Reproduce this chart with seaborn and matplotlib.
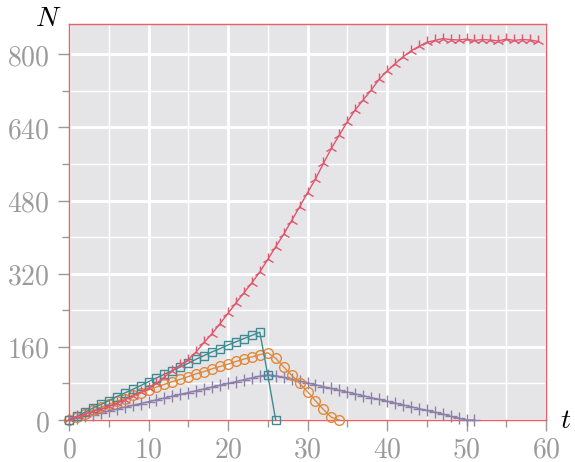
import numpy as np
import pandas as pd
import seaborn as sns
import matplotlib.pyplot as plt
from matplotlib.ticker import MultipleLocator, FuncFormatter

# values
t_red = list(range(0, 60))
n_red = [3, 8, 13, 19, 24, 30, 37, 44, 52, 61,
         70, 80, 94, 108, 120, 132, 149, 170, 189, 211,
         233, 256, 278, 300, 324, 351, 379, 406, 436, 466,
         497, 527, 561, 594, 623, 652, 678, 700, 721, 745,
         763, 779, 794, 807, 817, 826, 830, 834, 832, 831,
         833, 830, 832, 831, 829, 833, 830, 832, 831, 828]

t_teal = list(range(0, 27))
n_teal = [0, 8, 17, 26, 34, 42, 51, 59, 67, 75,
          84, 92, 100, 108, 116, 124, 133, 141, 149, 156,
          164, 171, 178, 185, 192, 99, 0]

t_orange = list(range(0, 35))
n_orange = [0, 7, 14, 21, 28, 34, 41, 47, 54, 60,
            66, 72, 78, 84, 89, 95, 101, 106, 112, 117,
            122, 128, 133, 138, 143, 147, 135, 116, 98, 80,
            62, 42, 23, 6, 0]

t_purple = list(range(0, 52))
n_purple = [0, 4, 8, 12, 16, 20, 24, 28, 32, 36,
            40, 44, 48, 52, 56, 60, 64, 68, 72, 76,
            80, 84, 88, 92, 96, 99, 97, 93, 89, 85,
            81, 77, 73, 69, 65, 61, 57, 53, 49, 45,
            41, 37, 33, 29, 25, 21, 17, 13, 8, 4,
            0, 0]

c_red = "#e0566c"
c_teal = "#3f8b92"
c_orange = "#e08a3c"
c_purple = "#8c80a8"
c_spine = "#e8606a"
c_tick = "#9a9a9a"

plt.rcParams["mathtext.fontset"] = "cm"

fig = plt.figure(figsize=(5.75, 4.62), dpi=100)
ax = fig.add_axes([69 / 575, 1 - 420 / 462, 477 / 575, 396 / 462])
ax.set_facecolor("#e5e5e8")

series = [
    (t_purple, n_purple, c_purple, "+", 8),
    (t_orange, n_orange, c_orange, "o", 7),
    (t_teal, n_teal, c_teal, "s", 5.8),
    (t_red, n_red, c_red, "2", 9),
]
for t, n, col, mk, ms in series:
    df = pd.DataFrame({"t": t, "N": n})
    sns.lineplot(data=df, x="t", y="N", ax=ax, color=col, lw=1.0,
                 marker=mk, markersize=ms, markerfacecolor="none",
                 markeredgecolor=col, markeredgewidth=1.0, clip_on=False,
                 zorder=3)

ax.set_xlim(0, 60)
ax.set_ylim(0, 866)
ax.xaxis.set_major_locator(MultipleLocator(10))
ax.xaxis.set_minor_locator(MultipleLocator(5))
ax.yaxis.set_major_locator(MultipleLocator(160))
ax.yaxis.set_minor_locator(MultipleLocator(80))
fmt = FuncFormatter(lambda v, p: f"${v:.0f}$")
ax.xaxis.set_major_formatter(fmt)
ax.yaxis.set_major_formatter(fmt)

ax.grid(which="major", color="white", lw=2.0, zorder=0)
ax.grid(which="minor", color="white", lw=1.0, zorder=0)
ax.set_axisbelow(True)

ax.tick_params(which="major", length=8, width=1, color=c_tick,
               labelcolor=c_tick, labelsize=20, pad=6)
ax.tick_params(axis="x", which="major", pad=3)
ax.tick_params(which="minor", length=5, width=1, color=c_tick)
for s in ax.spines.values():
    s.set_color(c_spine)
    s.set_linewidth(1.0)

ax.set_xlabel("")
ax.set_ylabel("")
fig.text(48 / 575, 1 - 18 / 462, "$N$", fontsize=20, ha="center", va="center")
fig.text(566 / 575, 1 - 420 / 462, "$t$", fontsize=20, ha="center", va="center")

fig.savefig("out.png", dpi=100)
